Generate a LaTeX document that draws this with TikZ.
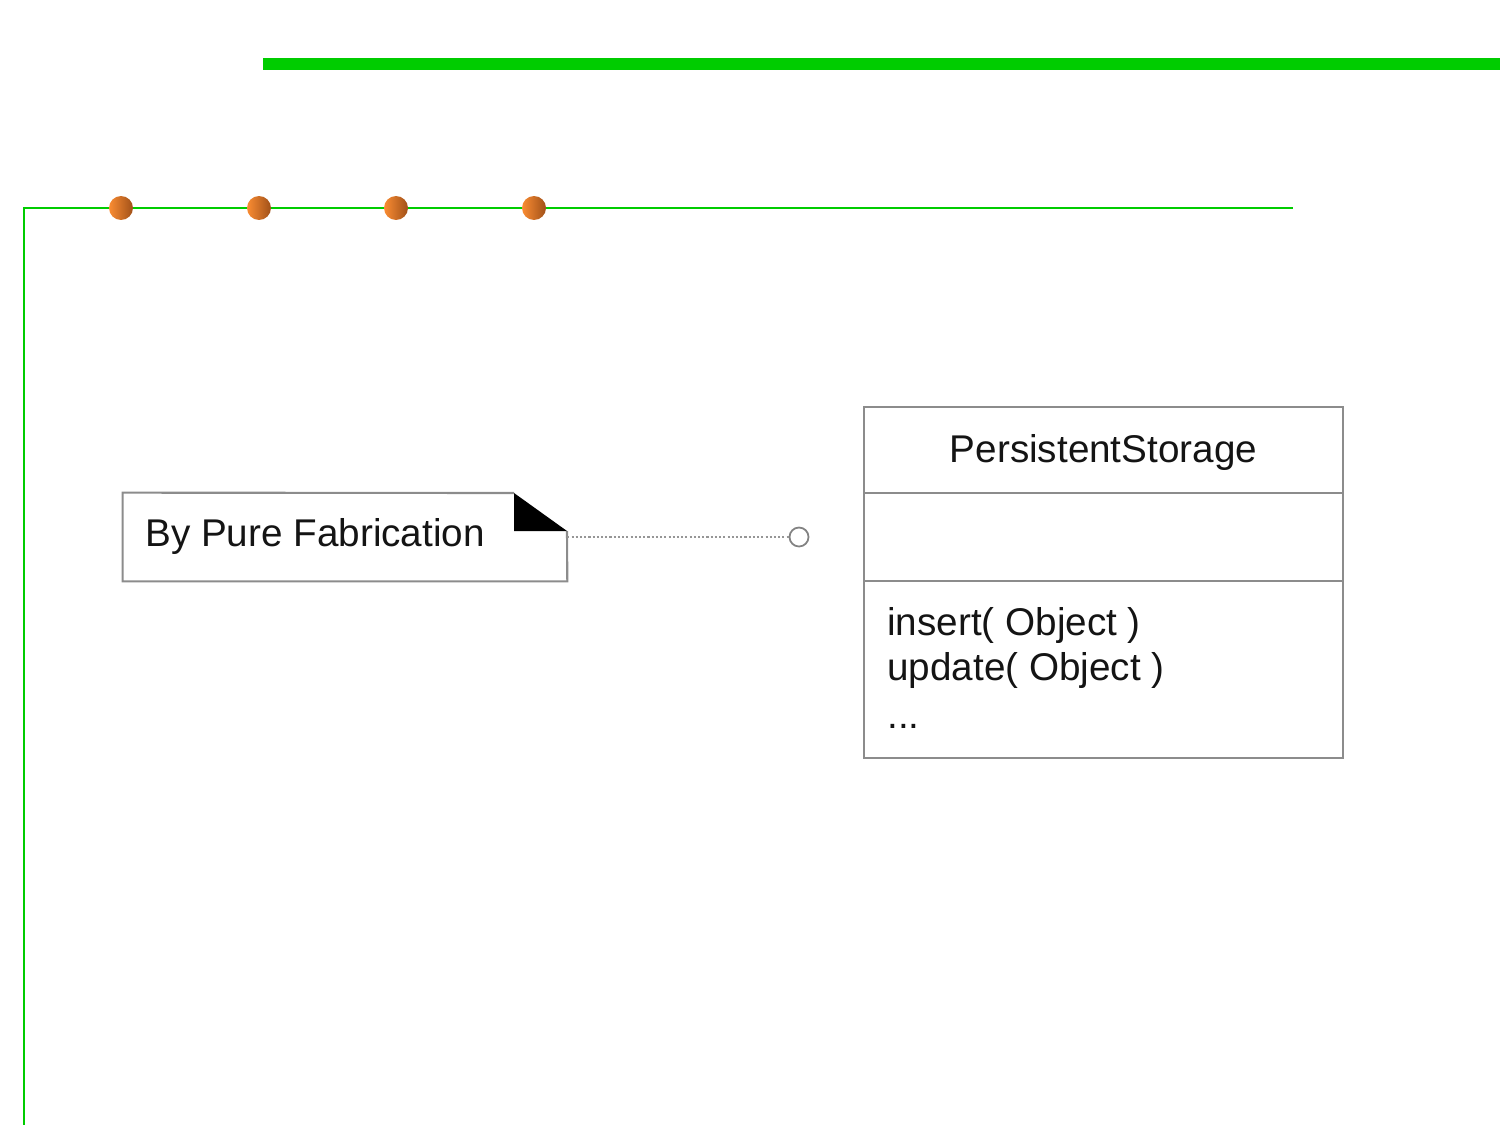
\documentclass[tikz,border=0pt]{standalone}
\usepackage{fontspec}
\setmainfont{Liberation Sans}
\begin{document}
\begin{tikzpicture}[x=0.02cm,y=-0.02cm,
  boxline/.style={draw={rgb,255:red,140;green,140;blue,140}, line width=1.2pt},
  txt/.style={font=\fontsize{22}{26}\selectfont, inner sep=0pt, text={rgb,255:red,20;green,20;blue,20}},
  dot/.style={circle, minimum size=0.48cm, inner sep=0pt, left color={rgb,255:red,250;green,140;blue,50}, right color={rgb,255:red,160;green,80;blue,25}},
  lnk/.style={draw={rgb,255:red,150;green,150;blue,150}, line width=0.8pt, dash pattern=on 1.2pt off 1.2pt}
]
\definecolor{lgreen}{RGB}{0,204,0}
\useasboundingbox (0,0) rectangle (1500,1125);
% decoration lines
\coordinate (t1) at (263,64);
\coordinate (t2) at (1500,64);
\draw[lgreen, line width=6.9pt] (t1) -- (t2);
\coordinate (h1) at (24,208);
\coordinate (h2) at (1293,208);
\coordinate (v2) at (24,1125);
\draw[lgreen, line width=1.1pt] (v2) -- (h1) -- (h2);
\foreach \x [count=\i] in {121,259,396,534}{
  \node[dot] (d\i) at (\x,208) {};
}
% note
\node[rectangle, minimum width=8.88cm, minimum height=1.76cm] (note) at (345,537) {};
\coordinate (f1) at (514,493);
\coordinate (f2) at (514,531);
\coordinate (f3) at (567,531);
\draw[boxline, line join=miter] (f1) -- (note.north west) -- (note.south west) -- (note.south east) -- (f3);
\fill[black] (f1) -- (f2) -- (f3) -- cycle;
\node[txt, anchor=base west] (notetext) at (145,546) {By Pure Fabrication};
% lollipop
\node[circle, draw={rgb,255:red,130;green,130;blue,130}, line width=1pt, minimum size=0.38cm, inner sep=0pt, fill=white] (circ) at (799,537) {};
\draw[lnk] (note.east) -- (circ.west);
% class
\node[boxline, rectangle, minimum width=9.58cm, minimum height=7.02cm] (cls) at (1103.5,582.5) {};
\coordinate (s1l) at (864,493); \coordinate (s1r) at (1343,493);
\coordinate (s2l) at (864,581); \coordinate (s2r) at (1343,581);
\draw[boxline] (s1l) -- (s1r);
\draw[boxline] (s2l) -- (s2r);
\node[txt, anchor=base] (cname) at (1103.5,462) {PersistentStorage};
\node[txt, anchor=base west] (m1) at (887,635) {insert( Object )};
\node[txt, anchor=base west] (m2) at (887,680) {update( Object )};
\node[txt, anchor=base west] (m3) at (887,728) {...};
\end{tikzpicture}
\end{document}
